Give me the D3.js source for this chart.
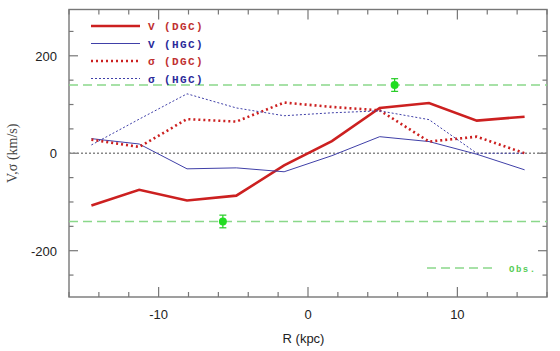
<!DOCTYPE html>
<html>
<head>
<meta charset="utf-8">
<script src="https://cdn.jsdelivr.net/npm/d3@7"></script>
<style>
  body { margin: 0; background: #fff; }
  svg { display: block; }
</style>
</head>
<body>
<div id="chart"></div>
<script>
// bin centres (kpc)
const R = [-14.5, -11.3, -8.1, -4.8, -1.6, 1.6, 4.8, 8.1, 11.3, 14.5];
const vDGC = [-107, -75, -97, -87, -25, 25, 93, 103, 67, 75];
const vHGC = [30, 19, -32, -30, -38, -5, 34, 24, -2, -34];
const sDGC = [28, 13, 70, 65, 104, 95, 88, 24, 34, 0];
const sHGC = [17, 70, 122, 93, 77, 83, 87, 69, 0, 0];
const obsR = [5.8, -5.7];
const obsV = [140, -140];
const obsErr = [13, 13];
const obsLevels = [140, -140];
const legendNames = ["V (DGC)", "V (HGC)", "\u03c3 (DGC)", "\u03c3 (HGC)"];

const W = 560, H = 351;
const m = {left: 69, right: 13, top: 9.5, bottom: 54};

const svg = d3.select("#chart").append("svg")
  .attr("width", W).attr("height", H);

const x = d3.scaleLinear().domain([-16, 16]).range([m.left, W - m.right]);
const y = d3.scaleLinear().domain([-295, 295]).range([H - m.bottom, m.top]);

const x0 = m.left, x1 = W - m.right, y0 = m.top, y1 = H - m.bottom;
const frameCol = "#777";
const sans = "'Liberation Sans', Arial, sans-serif";
const mono = "'Liberation Mono', 'Courier New', monospace";

// ticks
const xMinor = d3.range(-16, 17, 2);
const yMinor = d3.range(-250, 251, 50);
const g = svg.append("g").attr("stroke", frameCol).attr("stroke-width", 1.2);
xMinor.forEach(v => {
  const len = v % 10 === 0 ? 10 : 5;
  g.append("line").attr("x1", x(v)).attr("x2", x(v)).attr("y1", y1).attr("y2", y1 - len);
  g.append("line").attr("x1", x(v)).attr("x2", x(v)).attr("y1", y0).attr("y2", y0 + len);
});
yMinor.forEach(v => {
  const len = v % 200 === 0 ? 9 : 4.5;
  g.append("line").attr("y1", y(v)).attr("y2", y(v)).attr("x1", x0).attr("x2", x0 + len);
  g.append("line").attr("y1", y(v)).attr("y2", y(v)).attr("x1", x1).attr("x2", x1 - len);
});
svg.append("rect").attr("x", x0).attr("y", y0).attr("width", x1 - x0).attr("height", y1 - y0)
  .attr("fill", "none").attr("stroke", frameCol).attr("stroke-width", 1.4);

// tick labels
svg.append("g").selectAll("text").data([-10, 0, 10]).join("text")
  .attr("x", d => x(d)).attr("y", y1 + 22).attr("text-anchor", "middle")
  .attr("font-family", sans).attr("font-size", 13).attr("fill", "#222")
  .text(d => d);
svg.append("g").selectAll("text").data([-200, 0, 200]).join("text")
  .attr("x", x0 - 12).attr("y", d => y(d) + 5).attr("text-anchor", "end")
  .attr("font-family", sans).attr("font-size", 13).attr("fill", "#222")
  .text(d => d);

svg.append("text").attr("x", x(-0.3)).attr("y", y1 + 46).attr("text-anchor", "middle")
  .attr("font-family", sans).attr("font-size", 13).attr("fill", "#222")
  .text("R (kpc)");
svg.append("text").attr("transform", `translate(17,${(y0 + y1) / 2}) rotate(-90)`)
  .attr("text-anchor", "middle")
  .attr("font-family", "'Liberation Serif', 'DejaVu Serif', serif").attr("font-size", 14).attr("fill", "#444")
  .text("V,\u03c3 (km/s)");

// zero line and observed levels
svg.append("line").attr("x1", x0).attr("x2", x1).attr("y1", y(0)).attr("y2", y(0))
  .attr("stroke", "#888").attr("stroke-width", 1.5).attr("stroke-dasharray", "2,2");
svg.append("g").selectAll("line").data(obsLevels).join("line")
  .attr("x1", x0).attr("x2", x1).attr("y1", d => y(d)).attr("y2", d => y(d))
  .attr("stroke", "#8ad88a").attr("stroke-width", 1.4).attr("stroke-dasharray", "9,5");

const line = d3.line().x((d, i) => x(R[i])).y(d => y(d));
const series = [
  {v: vDGC, col: "#cc2020", txt: "#c03030", w: 2.6, dash: null},
  {v: vHGC, col: "#4040a8", txt: "#2a2a9a", w: 1, dash: null},
  {v: sDGC, col: "#cc2020", txt: "#c03030", w: 2.6, dash: "2,3"},
  {v: sHGC, col: "#4040a8", txt: "#2a2a9a", w: 1, dash: "2,2"}
];
series.forEach(s => {
  svg.append("path").datum(s.v).attr("d", line)
    .attr("fill", "none").attr("stroke", s.col).attr("stroke-width", s.w)
    .attr("stroke-dasharray", s.dash);
});

// observed points
obsR.forEach((r, i) => {
  const cx = x(r), cy = y(obsV[i]), e = obsErr[i];
  const gg = svg.append("g").attr("stroke", "#22cc22").attr("stroke-width", 1.2);
  gg.append("line").attr("x1", cx).attr("x2", cx).attr("y1", y(obsV[i] + e)).attr("y2", y(obsV[i] - e));
  gg.append("line").attr("x1", cx - 3.5).attr("x2", cx + 3.5).attr("y1", y(obsV[i] + e)).attr("y2", y(obsV[i] + e));
  gg.append("line").attr("x1", cx - 3.5).attr("x2", cx + 3.5).attr("y1", y(obsV[i] - e)).attr("y2", y(obsV[i] - e));
  svg.append("circle").attr("cx", cx).attr("cy", cy).attr("r", 4).attr("fill", "#22dd22");
});

// legend
const leg = svg.append("g");
series.forEach((s, i) => {
  const ly = 26 + i * 17.5;
  leg.append("line").attr("x1", 91).attr("x2", 140).attr("y1", ly).attr("y2", ly)
    .attr("stroke", s.col).attr("stroke-width", s.w).attr("stroke-dasharray", s.dash);
  leg.append("text").attr("x", 148).attr("y", ly + 4)
    .attr("font-family", mono).attr("font-weight", "bold")
    .attr("font-size", 11).attr("letter-spacing", 1.4).attr("fill", s.txt)
    .text(legendNames[i]);
});
leg.append("line").attr("x1", 427).attr("x2", 495).attr("y1", 268).attr("y2", 268)
  .attr("stroke", "#8ad88a").attr("stroke-width", 1.4).attr("stroke-dasharray", "9,5");
leg.append("text").attr("x", 509).attr("y", 272)
  .attr("font-family", mono).attr("font-weight", "bold")
  .attr("font-size", 9).attr("fill", "#55cc55").attr("letter-spacing", 1.5)
  .text("Obs.");
</script>
</body>
</html>
